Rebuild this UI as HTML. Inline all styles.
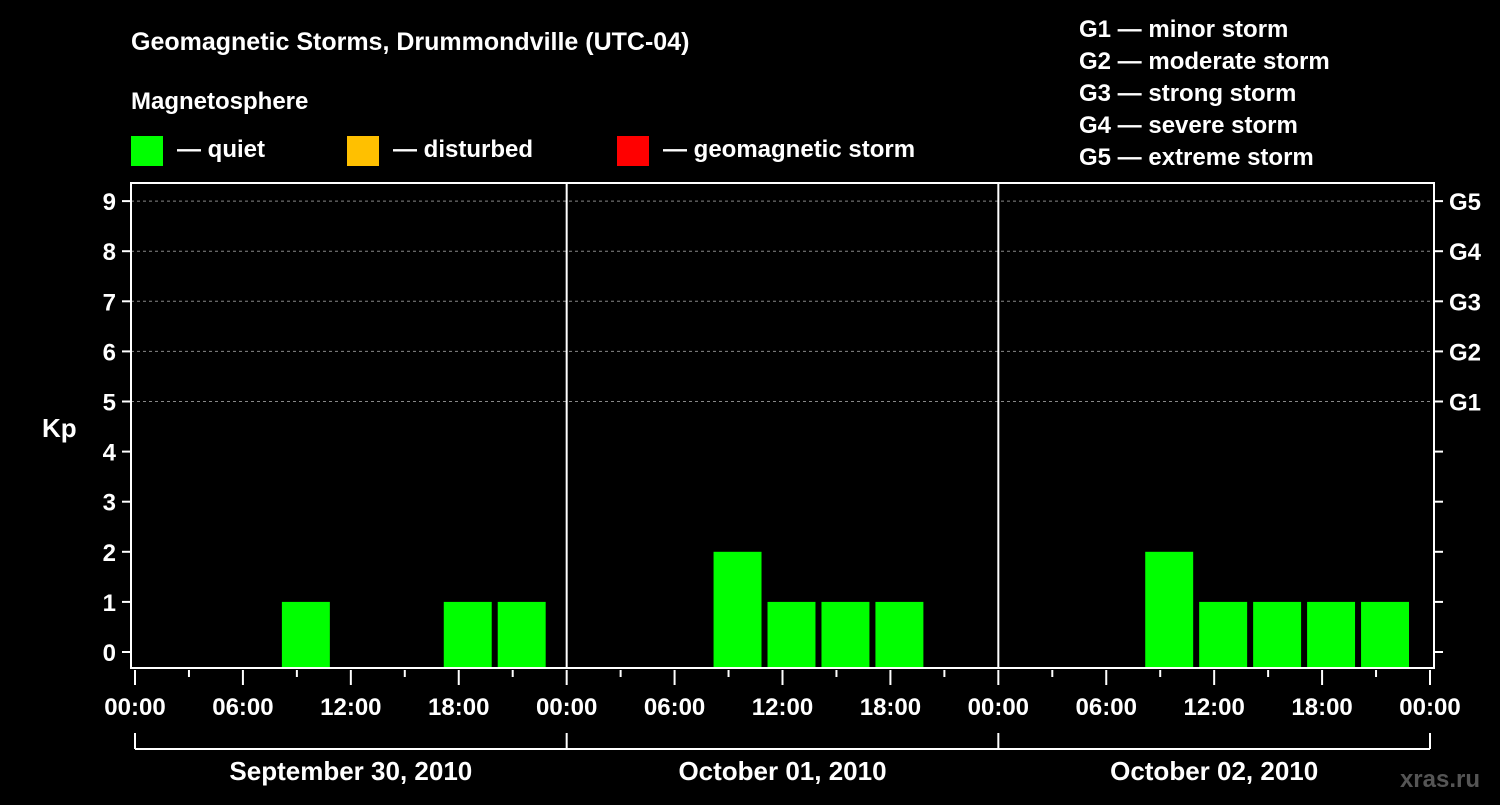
<!DOCTYPE html>
<html><head><meta charset="utf-8"><style>
body{margin:0;background:#000;}
svg text{font-family:"Liberation Sans",Arial,sans-serif;font-weight:bold;fill:#fff;}
</style></head><body>
<svg id="c" width="1500" height="800" xmlns="http://www.w3.org/2000/svg">
<rect width="1500" height="800" fill="#000"/>
<text x="131" y="50" font-size="25">Geomagnetic Storms, Drummondville (UTC-04)</text>
<text x="131" y="109" font-size="24">Magnetosphere</text>
<rect x="131" y="136" width="32" height="30" fill="#00ff00"/>
<text x="177" y="157" font-size="24">— quiet</text>
<rect x="347" y="136" width="32" height="30" fill="#ffc000"/>
<text x="393" y="157" font-size="24">— disturbed</text>
<rect x="617" y="136" width="32" height="30" fill="#ff0000"/>
<text x="663" y="157" font-size="24">— geomagnetic storm</text>
<g font-size="24">
<text x="1079" y="37">G1 — minor storm</text>
<text x="1079" y="69">G2 — moderate storm</text>
<text x="1079" y="101">G3 — strong storm</text>
<text x="1079" y="133">G4 — severe storm</text>
<text x="1079" y="165">G5 — extreme storm</text>
</g>
<text x="42" y="437" font-size="26">Kp</text>
<text x="1480" y="787" font-size="24" text-anchor="end" fill="#555" style="fill:#555">xras.ru</text>
<g id="plot"></g>
</svg>
<script>
const days = ["September 30, 2010","October 01, 2010","October 02, 2010"];
const binStarts = [8,17,20,32,35,38,41,56,59,62,65,68];
const kpValues = [1,1,1,2,1,1,1,2,1,1,1,1];
const yTicks = [0,1,2,3,4,5,6,7,8,9];
const gLabels = ["G1","G2","G3","G4","G5"];
const xTickLabels = ["00:00","06:00","12:00","18:00"];

const NS="http://www.w3.org/2000/svg";
const g=document.getElementById('plot');
const X0=135, X1=1430, totalH=72;
const xs=h=>X0+(X1-X0)*h/totalH;
const ys=v=>652-50.1*v;
const BOT=668, TOP=183;
function mk(t,a,p){const e=document.createElementNS(NS,t);for(const k in a)e.setAttribute(k,a[k]);(p||g).appendChild(e);return e;}

// grid
for(let v=5;v<=9;v++){const l=mk('line',{x1:131,x2:1434,y1:ys(v),y2:ys(v),stroke:'#888','stroke-dasharray':'3,3','stroke-width':1});

}
// bars
binStarts.forEach((s,i)=>{const v=kpValues[i];if(v<=0)return;
const col=v>=5?'#ff0000':(v>=4?'#ffc000':'#00ff00');
const r=mk('rect',{x:xs(s)+3,width:xs(3)-X0-6,y:ys(v),height:BOT-ys(v),fill:col});

});
// day separators
for(let d=1;d<days.length;d++){const l=mk('line',{x1:xs(d*24),x2:xs(d*24),y1:TOP,y2:BOT,stroke:'#fff','stroke-width':2});

}
// frame
const f=mk('rect',{x:131,y:TOP,width:1303,height:BOT-TOP,fill:'none',stroke:'#fff','stroke-width':2});


// y ticks
yTicks.forEach(v=>{mk('line',{x1:122,x2:131,y1:ys(v),y2:ys(v),stroke:'#fff','stroke-width':2});
mk('line',{x1:1434,x2:1443,y1:ys(v),y2:ys(v),stroke:'#fff','stroke-width':2});
const t=mk('text',{x:116,y:ys(v)+9,'font-size':24,'text-anchor':'end'});t.textContent=v;

});
gLabels.forEach((s,i)=>{const t=mk('text',{x:1449,y:ys(5+i)+9,'font-size':24});t.textContent=s;

});
// x ticks
for(let h=0;h<=totalH;h+=3){const major=h%6===0;
mk('line',{x1:xs(h),x2:xs(h),y1:BOT+2,y2:major?685:677,stroke:'#fff','stroke-width':2});
if(major){const t=mk('text',{x:xs(h),y:715,'font-size':24,'text-anchor':'middle'});t.textContent=h===totalH?"00:00":xTickLabels[(h%24)/6];

}}
// day brackets
mk('line',{x1:X0,x2:X1,y1:749,y2:749,stroke:'#fff','stroke-width':2});
for(let d=0;d<=days.length;d++)mk('line',{x1:xs(d*24),x2:xs(d*24),y1:733,y2:749,stroke:'#fff','stroke-width':2});
days.forEach((s,d)=>{const t=mk('text',{x:xs(d*24+12),y:780,'font-size':26,'text-anchor':'middle'});t.textContent=s;

});
</script>
</body></html>
